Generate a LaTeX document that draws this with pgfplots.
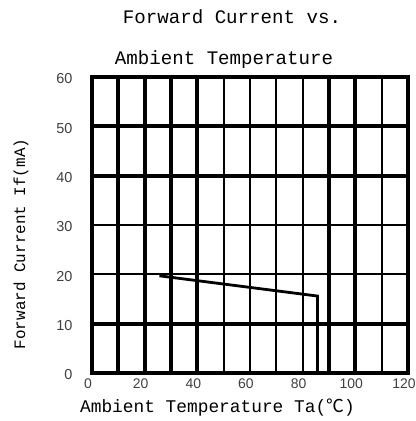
\documentclass[border=0pt]{standalone}
\usepackage{pgfplots}
\pgfplotsset{compat=1.18}
\usepackage{fontspec}
\setmainfont{Liberation Sans}
\newfontfamily\monof{Liberation Mono}
\newfontfamily\cjk{Noto Sans CJK SC}
\begin{document}
\begin{tikzpicture}
\useasboundingbox (-92bp,-48bp) rectangle (324bp,373bp);
\begin{axis}[
  at={(0,0)}, anchor=south west,
  scale only axis, width=316bp, height=296bp,
  xmin=0, xmax=120, ymin=0, ymax=60,
  axis line style={line width=3.8bp},
  xtick={10,20,30,40,90,100}, xticklabels={},
  minor xtick={50,60,70,80,110},
  ytick={10,40,50}, yticklabels={},
  minor ytick={20,30},
  grid=both,
  major grid style={line width=4bp, black},
  minor grid style={line width=1.8bp, black},
  major tick length=0pt, minor tick length=0pt,
  extra x ticks={0,20,40,60,80,100,120},
  extra y ticks={0,10,20,30,40,50,60},
  extra x tick style={grid=none, tick label style={font=\fontsize{14}{14}\selectfont, text=black!75, yshift=-2bp, xshift=-4bp}},
  extra y tick style={grid=none, tick label style={font=\fontsize{14.5}{14.5}\selectfont, text=black!75, xshift=-16bp, yshift=-2bp}},
  xticklabel style={/pgf/number format/assume math mode=true},
  yticklabel style={/pgf/number format/assume math mode=true},
  xlabel={Ambient Temperature Ta({\cjk ℃})},
  xlabel style={font=\monof\fontsize{17.9}{18}\selectfont, at={(rel axis cs:0.397,0)}, anchor=center, yshift=-35bp},
  ylabel={Forward Current If(mA)},
  ylabel style={font=\monof\fontsize{16}{16}\selectfont, at={(rel axis cs:0,0.436)}, anchor=center, yshift=71bp},
  clip=false,
]
\addplot[black, line width=2.8bp] coordinates {(25.6,19.7) (85.6,15.6) (85.6,0)};
\end{axis}
\node[font=\monof\fontsize{19.2}{19}\selectfont] at (140bp,356bp) {Forward Current vs.};
\node[font=\monof\fontsize{19.2}{19}\selectfont] at (132bp,313bp) {Ambient Temperature};
\end{tikzpicture}
\end{document}
